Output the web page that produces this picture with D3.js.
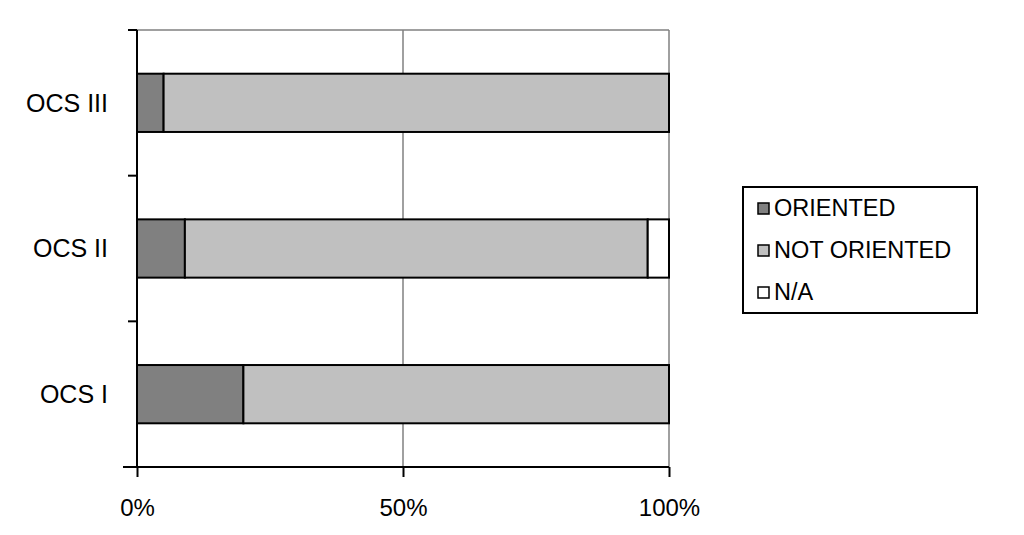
<!DOCTYPE html>
<html>
<head>
<meta charset="utf-8">
<script src="https://cdn.jsdelivr.net/npm/d3@7"></script>
<style>
  body { margin: 0; background: #fff; }
  text { font-family: "Liberation Sans", Arial, sans-serif; fill: #000; }
</style>
</head>
<body>
<div id="chart"></div>
<script>
const categories = ['OCS III', 'OCS II', 'OCS I']
const oriented = [5, 9, 20]
const notOriented = [95, 87, 80]
const notAvailable = [0, 4, 0]
const seriesNames = ['ORIENTED', 'NOT ORIENTED', 'N/A']
const seriesColors = ['#808080', '#c0c0c0', '#ffffff']
const xTicks = [0, 50, 100]

const width = 1024
const height = 535
const plotTop = 30
const plotBottom = 467

const svg = d3.select('#chart').append('svg')
    .attr('width', width)
    .attr('height', height)

const rows = categories.map((c, i) => ({
    cat: c,
    'ORIENTED': oriented[i],
    'NOT ORIENTED': notOriented[i],
    'N/A': notAvailable[i]
}))

const stacked = d3.stack().keys(seriesNames)(rows)

const x = d3.scaleLinear()
    .domain([0, 100])
    .range([137, 669])

const y = d3.scaleBand()
    .domain(categories)
    .range([plotTop, plotBottom])
    .paddingInner(0.6)
    .paddingOuter(0.3)

const color = d3.scaleOrdinal().domain(seriesNames).range(seriesColors)

// gridlines
svg.append('line')
    .attr('x1', x(0)).attr('x2', x(100))
    .attr('y1', plotTop).attr('y2', plotTop)
    .attr('stroke', '#808080').attr('stroke-width', 1.5)

svg.selectAll('.grid').data(xTicks.filter(d => d > 0)).enter().append('line')
    .attr('class', 'grid')
    .attr('x1', d => x(d)).attr('x2', d => x(d))
    .attr('y1', plotTop).attr('y2', plotBottom)
    .attr('stroke', '#808080').attr('stroke-width', 1.5)

// bars
const layer = svg.selectAll('.layer').data(stacked).enter().append('g')
    .attr('class', 'layer')
    .attr('fill', d => color(d.key))

layer.selectAll('rect').data(d => d.filter(p => p[1] - p[0] > 0)).enter().append('rect')
    .attr('x', d => x(d[0]))
    .attr('y', d => y(d.data.cat))
    .attr('width', d => x(d[1]) - x(d[0]))
    .attr('height', y.bandwidth())
    .attr('stroke', '#000')
    .attr('stroke-width', 2)

// y axis, ticks sit between categories
svg.append('line')
    .attr('x1', x(0)).attr('x2', x(0))
    .attr('y1', plotTop).attr('y2', plotBottom)
    .attr('stroke', '#000').attr('stroke-width', 2)

const boundaries = d3.range(categories.length + 1)
    .map(i => plotTop + i * (plotBottom - plotTop) / categories.length)
svg.selectAll('.ytick').data(boundaries).enter().append('line')
    .attr('class', 'ytick')
    .attr('x1', x(0) - 9).attr('x2', x(0))
    .attr('y1', d => d).attr('y2', d => d)
    .attr('stroke', '#000').attr('stroke-width', 2)

svg.selectAll('.ylabel').data(categories).enter().append('text')
    .attr('class', 'ylabel')
    .attr('x', 108)
    .attr('y', d => y(d) + y.bandwidth() / 2)
    .attr('dy', '0.35em')
    .attr('text-anchor', 'end')
    .style('font-size', '25px')
    .text(d => d)

// x axis
const xAxis = d3.axisBottom(x)
    .tickValues(xTicks)
    .tickSize(10)
    .tickPadding(22)
    .tickFormat(d => d + '%')

const xg = svg.append('g')
    .attr('transform', `translate(0,${plotBottom})`)
    .call(xAxis)
xg.select('.domain').attr('d', `M${x(0) - 14},0H${x(100)}`).attr('stroke-width', 2)
xg.selectAll('.tick line').attr('stroke-width', 2)
xg.selectAll('.tick text')
    .style('font-size', '24px')
    .style('font-family', '"Liberation Sans", Arial, sans-serif')
    .attr('fill', '#000')

// legend
const legend = svg.append('g').attr('transform', 'translate(743,187)')
legend.append('rect')
    .attr('width', 234).attr('height', 126)
    .attr('fill', '#fff').attr('stroke', '#000').attr('stroke-width', 2)

const item = legend.selectAll('.item').data(seriesNames).enter().append('g')
    .attr('class', 'item')
    .attr('transform', (d, i) => `translate(15,${21 + i * 42})`)

item.append('rect')
    .attr('x', 0).attr('y', -5)
    .attr('width', 11).attr('height', 11)
    .attr('fill', d => color(d))
    .attr('stroke', '#000').attr('stroke-width', 1.5)

item.append('text')
    .attr('x', 16)
    .attr('dy', '0.35em')
    .style('font-size', '23.5px')
    .text(d => d)
</script>
</body>
</html>
